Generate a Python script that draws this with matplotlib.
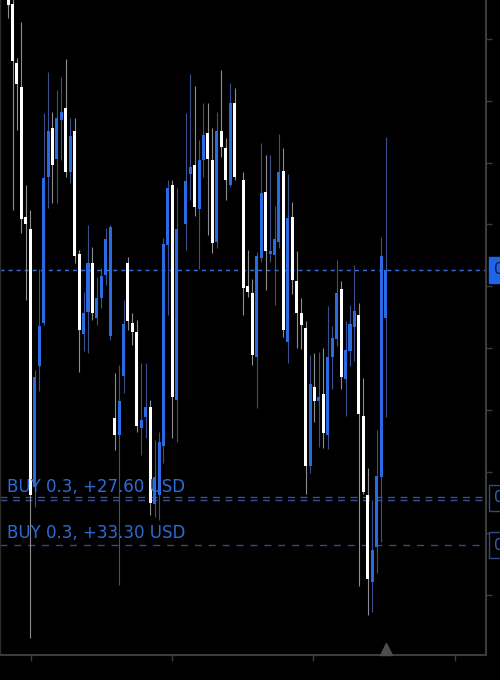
import matplotlib
matplotlib.use("Agg")
import matplotlib.pyplot as plt
from matplotlib.transforms import blended_transform_factory
import numpy as np

nan = float("nan")

# OHLC values (chart units, height above image bottom)
opens = [695, 676, 617, 593, 463, 451, 193, 314, 357, 503,
         552, 521, 560, 572, 508, 549, 426, 346, 368, 417,
         362, 382, 405, 344, 262, 245, 304, 417, 357, 348,
         252, 263, 273, 176, 185, 234, 435, 495, 280, nan,
         456, 506, 515, 471, 520, 547, 520, 438, 549, 532,
         495, 577, nan, 500, 394, 387, 323, 422, 488, 426,
         425, 438, 509, 338, 463, 399, 367, 352, 214, 293,
         279, 286, 245, 323, 341, 391, 301, 329, 353, 365,
         264, 185, 98, 133, 203, 362]
closes = [675, 619, 596, 461, 456, 185, 303, 354, 502, 549,
          515, 562, 568, 508, 544, 424, 350, 367, 417, 367,
          382, 404, 441, 453, 245, 279, 356, 359, 348, 254,
          260, 273, 177, 203, 238, 436, 492, 283, 451, nan,
          499, 513, 473, 520, 545, 521, 437, 549, 533, 500,
          577, 503, nan, 392, 388, 325, 424, 487, 429, 429,
          441, 508, 350, 462, 400, 367, 355, 214, 296, 279,
          283, 247, 323, 342, 387, 303, 330, 356, 369, 266,
          188, 101, 130, 204, 424, 410]
highs = [700, 685, 622, 658, 495, 470, 310, 411, 567, 608,
         568, 590, 603, 621, 562, 562, 430, 388, 455, 433,
         403, 412, 452, 455, 307, 315, 380, 423, 367, 360,
         317, 317, 280, 240, 248, 442, 500, 500, 492, nan,
         567, 606, 594, 540, 577, 577, 552, 568, 610, 542,
         597, 592, nan, 508, 430, 401, 428, 537, 525, 525,
         474, 546, 532, 506, 478, 429, 382, 359, 325, 327,
         328, 332, 374, 354, 420, 399, 359, 375, 415, 377,
         302, 212, 180, 250, 443, 543]
lows = [662, 470, 550, 447, 380, 42, 173, 289, 355, 472,
        477, 477, 520, 503, 497, 417, 308, 329, 327, 360,
        355, 372, 395, 340, 230, 95, 287, 350, 335, 248,
        225, 242, 165, 163, 160, 217, 365, 242, 238, nan,
        430, 480, 464, 411, 503, 445, 427, 432, 523, 480,
        493, 500, nan, 365, 383, 315, 272, 418, 390, 418,
        375, 432, 343, 317, 386, 332, 331, 186, 207, 258,
        233, 232, 231, 291, 334, 291, 264, 314, 319, 94,
        186, 65, 68, 107, 138, 263]

current_price = 410
buy_levels = [182, 135]
buy_labels = ["BUY 0.3, +27.60 USD", "BUY 0.3, +33.30 USD"]
price_ticks = [641, 579.2, 517.4, 455.6, 393.8, 332, 270.2, 208.4, 146.6, 84.8]
time_ticks = [5.2, 36.9, 68.7, 100.6]

UP_BODY = "#2b6be2"
UP_WICK = "#3a4f8e"
DN_BODY = "#ffffff"
DN_WICK = "#8e8e8e"

fig = plt.figure(figsize=(5.0, 6.8), dpi=100, facecolor="black")
ax = fig.add_axes([0.0, 25 / 680, 486 / 500, 655 / 680])
ax.set_facecolor("black")

o = np.array(opens, float)
c = np.array(closes, float)
h = np.array(highs, float)
l = np.array(lows, float)
x = np.arange(len(o))
ok = ~np.isnan(o)
up = c >= o

for idx in x[ok]:
    wc = UP_WICK if up[idx] else DN_WICK
    ax.vlines(idx, l[idx], h[idx], color=wc, linewidth=0.8, zorder=2)

bx = x[ok]
bottoms = np.minimum(o, c)[ok]
heights = np.maximum(np.abs(c - o)[ok], 1.5)
cols = [UP_BODY if up[i] else DN_BODY for i in bx]
ax.bar(bx, heights, bottom=bottoms, width=0.68, color=cols, linewidth=0, zorder=3)

# current price line
ax.axhline(current_price, color="#3d6fe0", linewidth=1.0,
           linestyle=(0, (2.9, 2.9)), zorder=1)
# order lines
ax.axhline(buy_levels[0] + 1.5, color="#3b4f96", linewidth=1.0,
           linestyle=(0, (5, 4)), zorder=1)
ax.axhline(buy_levels[0] - 1.5, color="#3b4f96", linewidth=1.0,
           linestyle=(0, (5, 4)), zorder=1)
ax.axhline(buy_levels[1], color="#384a80", linewidth=1.0,
           linestyle=(0, (5, 5)), zorder=1)

tr = blended_transform_factory(ax.transAxes, ax.transData)
for lvl, lab in zip(buy_levels, buy_labels):
    ax.text(7 / 486, lvl + 2.5, lab, transform=tr, color="#2f6bd6",
            fontsize=12, va="bottom", ha="left", zorder=4,
            family=["DejaVu Sans"])

# right-hand price boxes (clipped by the picture edge)
ax.text(1.0 + 8 / 486, current_price, "0.65412", transform=tr,
        color="#0a1a40", fontsize=11, va="center", ha="left",
        bbox=dict(boxstyle="square,pad=0.35", facecolor="#1f63e8",
                  edgecolor="#1f63e8"), clip_on=False)
for lvl in buy_levels:
    ax.text(1.0 + 8 / 486, lvl, "0.65320", transform=tr,
            color="#3b5fb0", fontsize=11, va="center", ha="left",
            bbox=dict(boxstyle="square,pad=0.35", facecolor="black",
                      edgecolor="#2f4a8f", linewidth=1.0), clip_on=False)

# triangle marker at the bottom of the last candle
trb = blended_transform_factory(ax.transData, ax.transAxes)
ax.plot([len(o) - 1], [0.009], marker="^", markersize=9, color="#4d4d4d",
        transform=trb, clip_on=False, zorder=5)

ax.set_xlim(-1.82, 107.63)
ax.set_ylim(25, 680)

for s in ["top"]:
    ax.spines[s].set_visible(False)
ax.spines["left"].set_color("#2a2a2a")
ax.spines["left"].set_linewidth(1.0)
ax.spines["bottom"].set_color("#3c3c3c")
ax.spines["bottom"].set_linewidth(1.5)
ax.spines["right"].set_color("#3c3c3c")
ax.spines["right"].set_linewidth(1.5)

ax.yaxis.tick_right()
ax.set_yticks(price_ticks)
ax.set_yticklabels([])
ax.tick_params(axis="y", which="both", length=4, width=1, color="#3c3c3c",
               direction="out", left=False, right=True, labelright=False)
ax.set_xticks(time_ticks)
ax.set_xticklabels([])
ax.tick_params(axis="x", length=4, width=1, color="#3c3c3c", direction="out")

fig.savefig("out.png", dpi=100, facecolor="black")
